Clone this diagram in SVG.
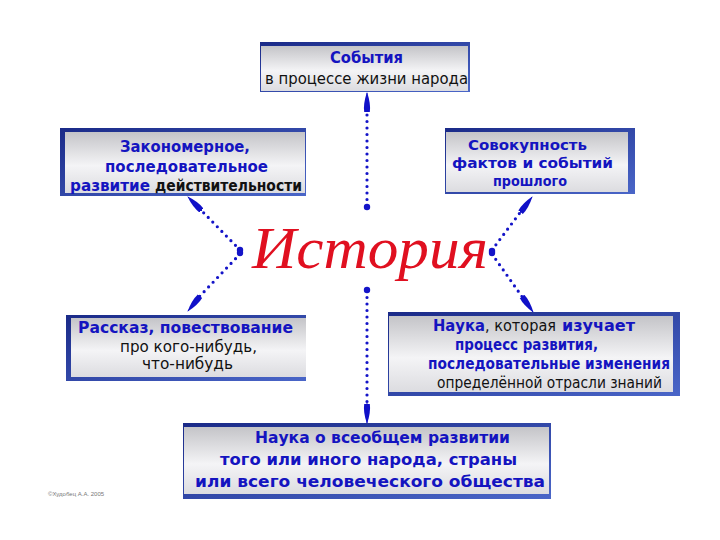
<svg xmlns="http://www.w3.org/2000/svg" width="720" height="540" viewBox="0 0 720 540">
<defs>
<linearGradient id="grey" x1="0" y1="0" x2="0" y2="1">
<stop offset="0" stop-color="#c4c4c8"/>
<stop offset="0.55" stop-color="#f4f4f6"/>
<stop offset="1" stop-color="#dcdce0"/>
</linearGradient>
<linearGradient id="frame" x1="0" y1="0" x2="1" y2="1">
<stop offset="0" stop-color="#1a2a88"/>
<stop offset="1" stop-color="#4a66c8"/>
</linearGradient>
<marker id="arr" viewBox="0 0 20 8" refX="19" refY="4" markerWidth="20" markerHeight="8" markerUnits="userSpaceOnUse" orient="auto">
<path d="M0,1.2 Q8,0 20,4 Q8,8 0,6.8 Z" fill="#1010c8"/>
</marker>
<style>
.b{font-family:"DejaVu Sans","Liberation Sans",sans-serif;font-size:15px;font-weight:bold;fill:#1414c0}
.k{font-family:"DejaVu Sans","Liberation Sans",sans-serif;font-size:15px;fill:#111}
.kb{font-family:"DejaVu Sans","Liberation Sans",sans-serif;font-size:15px;font-weight:bold;fill:#111}
.s{font-size:14px}
.fr{fill:url(#frame)}
.in{fill:url(#grey)}
.dot{fill:none;stroke:#1414c8;stroke-width:3.2;stroke-linecap:round;stroke-dasharray:0 6.5}
.hd{fill:#1414c8}
</style>
</defs>
<rect width="720" height="540" fill="#ffffff"/>

<g id="connectors">
<line class="dot" x1="367" y1="206" x2="367" y2="112"/>
<path d="M367,112 L367,93" stroke="#1414c8" stroke-width="1" marker-end="url(#arr)"/>
<circle class="hd" cx="367" cy="207" r="3.2"/>

<line class="dot" x1="367" y1="291" x2="367" y2="405"/>
<path d="M367,403 L367,423" stroke="#1414c8" stroke-width="1" marker-end="url(#arr)"/>
<circle class="hd" cx="367" cy="290" r="3.2"/>

<line class="dot" x1="240" y1="250" x2="200" y2="209"/>
<path d="M202,211 L188,197" stroke="#1414c8" stroke-width="1" marker-end="url(#arr)"/>
<circle class="hd" cx="240" cy="250" r="3.2"/>

<line class="dot" x1="240" y1="254" x2="199" y2="297"/>
<path d="M201,295 L188,311" stroke="#1414c8" stroke-width="1" marker-end="url(#arr)"/>
<circle class="hd" cx="240" cy="253" r="3.2"/>

<line class="dot" x1="492" y1="250" x2="522" y2="210"/>
<path d="M520,213 L532,197" stroke="#1414c8" stroke-width="1" marker-end="url(#arr)"/>
<circle class="hd" cx="492" cy="251" r="3.2"/>

<line class="dot" x1="492" y1="254" x2="523" y2="298"/>
<path d="M521,295 L533,312" stroke="#1414c8" stroke-width="1" marker-end="url(#arr)"/>
<circle class="hd" cx="492" cy="253" r="3.2"/>
</g>

<g id="title">
<text x="370" y="268" font-family="'Liberation Serif','DejaVu Serif',serif" font-style="italic" font-size="60" fill="#e01020" text-anchor="middle" textLength="236" lengthAdjust="spacingAndGlyphs">История</text>
</g>

<g id="n-events">
<rect class="fr" x="260" y="42" width="210" height="50"/>
<rect class="in" x="261" y="46" width="207" height="45"/>
<text class="b" x="330" y="63" textLength="73" lengthAdjust="spacingAndGlyphs">События</text>
<text class="k" x="265" y="84" textLength="203" lengthAdjust="spacingAndGlyphs">в процессе жизни народа</text>
</g>

<g id="n-regular">
<rect class="fr" x="60" y="128" width="246" height="68"/>
<rect class="in" x="65" y="132" width="240" height="61"/>
<text class="b" x="120" y="152" textLength="130" lengthAdjust="spacingAndGlyphs">Закономерное,</text>
<text class="b" x="105" y="172" textLength="163" lengthAdjust="spacingAndGlyphs">последовательное</text>
<text class="b" x="70" y="191" textLength="80" lengthAdjust="spacingAndGlyphs">развитие</text>
<text class="kb" x="155" y="191" textLength="147" lengthAdjust="spacingAndGlyphs">действительности</text>
</g>

<g id="n-facts">
<rect class="fr" x="445" y="128" width="190" height="66"/>
<rect class="in" x="446" y="132" width="182" height="60"/>
<text class="b s" x="468" y="150" textLength="119" lengthAdjust="spacingAndGlyphs">Совокупность</text>
<text class="b s" x="452" y="168" textLength="161" lengthAdjust="spacingAndGlyphs">фактов и событий</text>
<text class="b s" x="493" y="186" textLength="74" lengthAdjust="spacingAndGlyphs">прошлого</text>
</g>

<g id="n-story">
<rect class="fr" x="66" y="315" width="240" height="66"/>
<rect class="in" x="71" y="318" width="235" height="59"/>
<text class="b" x="78" y="333" textLength="215" lengthAdjust="spacingAndGlyphs">Рассказ, повествование</text>
<text class="k" x="120" y="352" textLength="137" lengthAdjust="spacingAndGlyphs">про кого-нибудь,</text>
<text class="k" x="142" y="369" textLength="91" lengthAdjust="spacingAndGlyphs">что-нибудь</text>
</g>

<g id="n-science">
<rect class="fr" x="388" y="312" width="292" height="84"/>
<rect class="in" x="389" y="316" width="284" height="76"/>
<text class="b" x="433" y="331" textLength="52" lengthAdjust="spacingAndGlyphs">Наука</text>
<text class="k" x="485" y="331" textLength="71" lengthAdjust="spacingAndGlyphs">, которая</text>
<text class="b" x="562" y="331" textLength="73" lengthAdjust="spacingAndGlyphs">изучает</text>
<text class="b" x="455" y="350" textLength="143" lengthAdjust="spacingAndGlyphs">процесс развития,</text>
<text class="b" x="428" y="369" textLength="242" lengthAdjust="spacingAndGlyphs">последовательные изменения</text>
<text class="k" x="437" y="388" textLength="225" lengthAdjust="spacingAndGlyphs">определённой отрасли знаний</text>
</g>

<g id="n-universal">
<rect class="fr" x="183" y="423" width="368" height="76"/>
<rect class="in" x="184" y="427" width="365" height="67"/>
<text class="b" x="255" y="443" textLength="255" lengthAdjust="spacingAndGlyphs">Наука о всеобщем развитии</text>
<text class="b" x="220" y="465" textLength="297" lengthAdjust="spacingAndGlyphs">того или иного народа, страны</text>
<text class="b" x="195" y="487" textLength="350" lengthAdjust="spacingAndGlyphs">или всего человеческого общества</text>
</g>

<text x="48" y="496" font-family="'Liberation Sans',sans-serif" font-size="6" fill="#777">©Худобец А.А. 2005</text>
</svg>
